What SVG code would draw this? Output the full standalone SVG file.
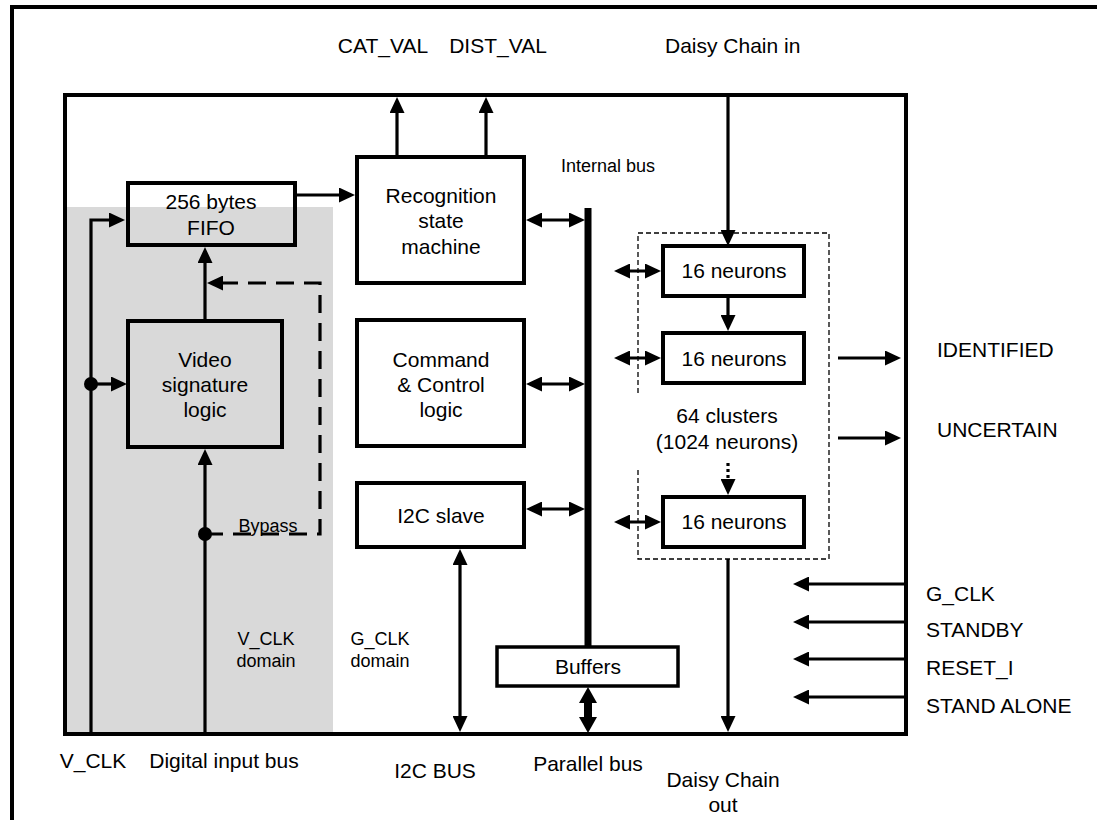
<svg xmlns="http://www.w3.org/2000/svg" width="1097" height="820" viewBox="0 0 1097 820">
<style>
text{font-family:"Liberation Sans",Arial,sans-serif;font-size:21px;fill:#000}
.s{font-size:18px}
.m{text-anchor:middle}
.box{fill:none;stroke:#000;stroke-width:4}
.c{fill:none;stroke:#000;stroke-width:3.2}
.a{marker-end:url(#ah)}
.d{marker-start:url(#ah);marker-end:url(#ah)}
.dash{stroke-dasharray:18 10}
</style>
<defs>
<marker id="ah" viewBox="0 0 16 15" refX="12" refY="7.5" markerWidth="16" markerHeight="15" orient="auto-start-reverse" markerUnits="userSpaceOnUse"><path d="M0,0 L16,7.5 L0,15 z" fill="#000"/></marker>
</defs>
<rect x="0" y="0" width="1097" height="820" fill="#fff"/>
<path d="M12,820 V7 H1097" fill="none" stroke="#000" stroke-width="4"/>
<rect x="65" y="207" width="268" height="527" fill="#d9d9d9"/>
<rect x="65" y="95" width="841" height="639" class="box"/>

<g id="fifo"><rect x="128" y="183" width="167" height="62" class="box"/><text x="211" y="209" class="m">256 bytes</text><text x="211" y="235" class="m">FIFO</text></g>
<g id="recognition"><rect x="357" y="157" width="167" height="126" class="box"/><text x="441" y="203" class="m">Recognition</text><text x="441" y="228" class="m">state</text><text x="441" y="254" class="m">machine</text></g>
<g id="command"><rect x="357" y="320" width="167" height="126" class="box"/><text x="441" y="367" class="m">Command</text><text x="441" y="392" class="m">&amp; Control</text><text x="441" y="417" class="m">logic</text></g>
<g id="i2c"><rect x="357" y="483" width="167" height="64" class="box"/><text x="441" y="523" class="m">I2C slave</text></g>
<g id="video"><rect x="128" y="321" width="154" height="126" class="box" style="fill:#d9d9d9"/><text x="205" y="367" class="m">Video</text><text x="205" y="392" class="m">signature</text><text x="205" y="417" class="m">logic</text></g>
<g id="buffers"><rect x="497" y="647" width="181" height="39" class="box" style="stroke-width:3.5"/><text x="588" y="674" class="m">Buffers</text></g>
<g id="cluster"><path d="M638,393 V233 H829 V559 H638 V467" fill="none" stroke="#000" stroke-width="1.3" stroke-dasharray="5 3"/><text x="727" y="423" class="m">64 clusters</text><text x="727" y="449" class="m">(1024 neurons)</text></g>
<g id="n1"><rect x="663" y="246" width="141" height="50" class="box"/><text x="734" y="278" class="m">16 neurons</text></g>
<g id="n2"><rect x="663" y="333" width="141" height="50" class="box"/><text x="734" y="366" class="m">16 neurons</text></g>
<g id="n3"><rect x="663" y="497" width="141" height="50" class="box"/><text x="734" y="529" class="m">16 neurons</text></g>

<g id="connectors">
<path d="M91,734 V220 H121" class="c a"/>
<path d="M91,384 H123" class="c a"/>
<circle cx="91" cy="384" r="7"/>
<path d="M205,734 V453" class="c a"/>
<circle cx="205" cy="534" r="7"/>
<path d="M205,319 V251" class="c a"/>
<path d="M205,534 H320 V283 H211" class="c a dash"/>
<path d="M297,195 H351" class="c a"/>
<path d="M397,155 V101" class="c a"/>
<path d="M486,155 V101" class="c a"/>
<path d="M530,220 H581" class="c d"/>
<path d="M530,384 H581" class="c d"/>
<path d="M530,509 H581" class="c d"/>
<line x1="588" y1="208" x2="588" y2="647" stroke="#000" stroke-width="7"/>
<path d="M460,553 V728" class="c d"/>
<line x1="588" y1="700" x2="588" y2="720" stroke="#000" stroke-width="8"/>
<path d="M588,687 L597,703 L579,703 z M588,733 L597,717 L579,717 z"/>
<path d="M728,97 V242" class="c a"/>
<path d="M728,298 V327" class="c a"/>
<path d="M728,463 V479" class="c" stroke-dasharray="3 3"/>
<path d="M728,479 V491" class="c a"/>
<path d="M728,559 V728" class="c a"/>
<path d="M618,271 H657" class="c d"/>
<path d="M618,358 H657" class="c d"/>
<path d="M618,522 H657" class="c d"/>
<path d="M838,358 H897" class="c a"/>
<path d="M838,438 H897" class="c a"/>
<path d="M905,584 H797" class="c a"/>
<path d="M905,622 H797" class="c a"/>
<path d="M905,659 H797" class="c a"/>
<path d="M905,697 H797" class="c a"/>
</g>

<g id="labels">
<text x="383" y="53" class="m">CAT_VAL</text>
<text x="498" y="53" class="m">DIST_VAL</text>
<text x="665" y="53">Daisy Chain in</text>
<text x="608" y="172" class="m s">Internal bus</text>
<text x="268" y="532" class="m s">Bypass</text>
<text x="266" y="645" class="m s">V_CLK</text>
<text x="266" y="667" class="m s">domain</text>
<text x="380" y="645" class="m s">G_CLK</text>
<text x="380" y="667" class="m s">domain</text>
<text x="937" y="357">IDENTIFIED</text>
<text x="937" y="437">UNCERTAIN</text>
<text x="926" y="601">G_CLK</text>
<text x="926" y="637">STANDBY</text>
<text x="926" y="675">RESET_I</text>
<text x="926" y="713">STAND ALONE</text>
<text x="93" y="768" class="m">V_CLK</text>
<text x="224" y="768" class="m">Digital input bus</text>
<text x="435" y="778" class="m">I2C BUS</text>
<text x="588" y="771" class="m">Parallel bus</text>
<text x="723" y="787" class="m">Daisy Chain</text>
<text x="723" y="812" class="m">out</text>
</g>
</svg>
